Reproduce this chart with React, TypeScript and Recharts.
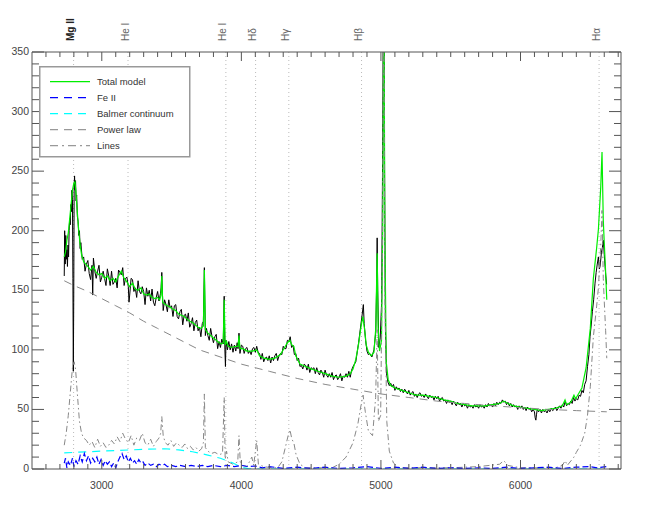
import React from 'react';
import { LineChart, Line, XAxis, YAxis, ReferenceLine, Legend } from 'recharts';

type P = [number, number];

const markerWaves = [2798, 3188, 3889, 4102, 4340, 4861, 6563];
const markerLabels = ['Mg II', 'He I', 'He I', 'H\u03b4', 'H\u03b3', 'H\u03b2', 'H\u03b1'];

const xTicks = [2600,2700,2800,2900,3000,3100,3200,3300,3400,3500,3600,3700,3800,3900,4000,4100,4200,4300,4400,4500,4600,4700,4800,4900,5000,5100,5200,5300,5400,5500,5600,5700,5800,5900,6000,6100,6200,6300,6400,6500,6600,6700];
const yTicks = [0,10,20,30,40,50,60,70,80,90,100,110,120,130,140,150,160,170,180,190,200,210,220,230,240,250,260,270,280,290,300,310,320,330,340,350];

const observed: P[] = [
[2731,162],[2734,200],[2738,172],[2742,196],[2746,176],[2750,184],[2754,170],[2758,188],[2762,178],[2766,200],[2770,210],[2774,205],[2778,222],[2782,216],[2786,234],[2790,226],[2793,160],[2796,82],[2799,140],[2802,238],[2805,246],[2808,234],[2812,242],[2816,225],[2820,230],[2825,212],[2830,208],[2835,196],[2840,200],[2845,185],
[2850,190],[2860,176],[2870,178],[2880,166],[2890,172],[2900,175],[2910,164],[2920,159],[2930,171],[2935,146],[2940,177],[2950,166],[2960,160],[2970,166],[2980,171],[2990,157],[3000,161],[3010,166],[3020,160],[3030,154],[3040,168],[3050,162],[3060,154],[3070,166],[3080,155],[3090,157],[3100,160],[3110,152],[3120,167],[3130,165],[3140,163],[3150,169],[3160,154],[3170,160],[3180,161],[3190,153],[3195,140],[3200,146],[3210,160],[3220,159],[3230,149],[3240,152],[3250,144],[3260,158],[3270,149],[3280,147],[3290,153],[3300,149],[3310,138],[3320,152],[3330,145],[3340,150],[3350,141],[3360,151],[3370,140],[3380,137],[3390,144],[3400,149],[3410,141],[3420,147],[3425,152],[3430,165],[3435,146],[3440,133],[3450,142],[3460,138],[3470,132],[3480,142],[3490,135],[3500,137],[3510,128],[3520,137],[3530,138],[3540,128],[3550,126],[3560,132],[3570,134],[3580,121],[3590,129],[3600,130],[3610,124],[3620,131],[3630,119],[3640,122],[3650,127],[3660,116],[3670,123],[3680,125],[3690,116],[3700,119],[3710,111],[3720,122],[3728,124],[3735,169],[3742,112],[3750,118],[3760,112],[3770,108],[3780,118],[3790,111],[3800,106],[3810,111],[3820,113],[3830,101],[3840,107],[3850,102],[3860,109],[3870,105],[3877,145],[3882,100],[3886,86],[3890,108],[3900,100],[3910,107],[3920,100],[3930,105],[3940,98],[3950,104],[3960,99],[3970,106],[3976,101],[3983,114],[3990,97],[4000,104],
[4010,103],[4020,97],[4030,101],[4040,102],[4050,97],[4060,99],[4070,96],[4080,101],[4090,102],[4100,98],[4110,103],[4120,98],[4130,97],[4140,92],[4150,97],[4160,90],[4170,93],[4180,94],[4190,91],[4200,95],[4210,89],[4220,94],[4230,91],[4240,95],[4250,97],[4260,91],[4270,95],[4280,97],[4290,96],[4300,103],[4310,101],[4320,101],[4330,108],[4340,107],[4350,111],[4360,102],[4370,104],[4380,96],[4390,97],[4400,91],[4410,93],[4420,86],[4430,87],[4440,84],[4450,88],[4460,87],[4470,83],[4480,88],[4490,81],[4500,85],[4510,84],[4520,85],[4530,80],[4540,85],[4550,81],[4560,79],[4570,83],[4580,81],[4590,77],[4600,83],[4610,79],[4620,77],[4630,80],[4640,77],[4650,81],[4660,75],[4670,78],[4680,79],[4690,75],[4700,77],[4710,80],[4720,74],[4730,78],[4740,77],[4750,80],[4760,77],[4770,82],[4780,77],[4790,83],[4800,86],
[4820,90],[4840,106],[4855,120],[4866,130],[4874,138],[4880,122],[4890,108],[4900,99],[4910,96],[4920,97],[4935,94],[4950,100],[4963,115],[4970,160],[4973,194],[4977,150],[4985,102],[4995,110],[5005,140],[5012,260],[5018,420],[5022,420],[5026,250],[5032,120],[5040,80],[5050,73],
[5060,70],[5070,72],[5080,69],[5090,71],[5100,66],[5110,69],[5120,67],[5130,68],[5140,65],[5150,67],[5160,64],[5170,67],[5180,65],[5190,63],[5200,66],[5210,62],[5220,64],[5230,65],[5240,61],[5250,63],[5260,60],[5270,63],[5280,64],[5290,61],[5300,62],[5310,60],[5320,63],[5330,61],[5340,59],[5350,62],[5360,60],[5370,61],[5380,58],[5390,61],[5400,59],[5410,61],[5420,57],[5430,59],[5440,60],[5450,57],[5460,58],[5470,55],[5480,58],[5490,56],[5500,57],[5510,54],[5520,57],[5530,55],[5540,53],[5550,56],[5560,54],[5570,55],[5580,52],[5590,55],[5600,53],[5610,54],[5620,51],[5630,54],[5640,52],[5650,53],[5660,51],[5670,54],[5680,52],[5690,53],[5700,51],[5710,54],[5720,52],[5730,53],[5740,51],[5750,54],[5760,52],[5770,55],[5780,53],[5790,54],[5800,52],[5810,55],[5820,53],[5830,56],[5840,54],[5850,56],[5860,55],[5870,58],[5880,56],[5890,57],[5900,54],[5910,56],[5920,53],[5930,55],[5940,52],[5950,54],[5960,52],[5970,53],[5980,50],[5990,53],[6000,51],[6010,53],[6020,50],[6030,52],[6040,49],[6050,52],[6060,50],[6070,51],[6080,48],[6090,50],[6100,48],[6105,43],[6110,41],[6115,46],[6120,50],[6130,48],[6140,50],[6150,47],[6160,50],[6170,48],[6180,49],[6190,47],[6200,50],[6210,48],[6220,51],[6230,49],[6240,50],[6250,52],[6260,49],[6270,51],[6280,53],[6290,51],[6300,54],[6310,52],[6320,57],[6330,53],[6340,55],[6350,54],[6360,57],[6370,55],[6380,60],[6390,57],[6400,59],[6410,58],[6420,62],[6430,61],[6440,66],[6450,64],[6460,71],[6470,74],[6480,86],[6490,96],
[6498,111],[6506,120],[6515,132],[6524,142],[6534,156],[6542,165],[6550,172],[6558,178],[6565,168],[6570,170],[6580,182],[6587,186],[6593,192],[6600,180],[6606,170],[6611,162],[6617,155]
];

const totalModel: P[] = [
[2731,178],[2740,182],[2750,192],[2760,198],[2770,210],[2780,222],[2790,234],[2800,240],[2808,241],[2815,232],[2825,215],[2835,200],[2845,188],[2855,180],[2870,174],[2885,172],[2900,170],[2920,167],[2940,170],[2960,165],[2980,163],[3000,164],[3020,160],[3040,162],[3060,158],[3080,160],[3100,157],[3120,162],[3140,166],[3160,160],[3180,157],[3200,153],[3220,156],[3240,151],[3260,150],[3280,152],[3300,147],[3320,146],[3340,147],[3360,144],[3380,143],[3400,144],[3415,142],[3424,146],[3430,162],[3436,140],[3455,138],[3470,137],[3490,136],[3510,134],[3530,133],[3550,130],[3570,129],[3590,128],[3610,126],[3630,124],[3650,123],[3670,121],[3690,119],[3710,118],[3728,120],[3735,167],[3742,117],[3760,114],[3780,112],[3800,110],[3820,108],[3840,106],[3860,105],[3870,106],[3877,142],[3884,104],[3894,107],[3905,103],[3930,102],[3960,103],[3976,103],[3983,112],[3990,101],[4010,101],[4040,99],[4080,99],[4110,100],[4130,95],[4160,93],[4200,92],[4240,93],[4280,96],[4310,102],[4330,106],[4348,108],[4362,104],[4376,103],[4390,95],[4420,88],[4460,86],[4500,84],[4550,82],[4600,80],[4650,78],[4700,77],[4750,78],[4780,80],[4800,84],[4820,92],[4840,105],[4858,120],[4870,128],[4882,118],[4895,104],[4910,98],[4930,95],[4950,98],[4963,118],[4973,181],[4980,118],[4990,99],[5004,108],[5014,220],[5021,420],[5028,200],[5038,90],[5052,75],[5070,70],[5100,68],[5150,66],[5200,64],[5250,62],[5300,62],[5350,61],[5400,60],[5450,58],[5500,57],[5550,55],[5600,54],[5650,53],[5700,53],[5750,53],[5800,54],[5850,55],[5880,57],[5910,55],[5950,53],[6000,52],[6050,51],[6100,50],[6150,49],[6200,50],[6250,51],[6300,53],[6319,58],[6330,54],[6360,56],[6383,62],[6395,59],[6420,64],[6440,68],[6470,85],[6500,118],[6522,160],[6545,185],[6558,201],[6575,237],[6584,266],[6593,209],[6600,190],[6610,165],[6618,142]
];

const powerLaw: P[] = [
[2731,158],[2800,154],[2900,149],[3000,143],[3100,137],[3200,131],[3300,124],[3400,118],[3500,112],[3600,106],[3700,100],[3800,96],[3900,92],[4000,88],[4200,82],[4400,76],[4600,71],[4800,67],[5000,63],[5200,60],[5400,57],[5600,55],[5800,53],[6000,51.5],[6200,50],[6400,49],[6618,48]
];

const linesModel: P[] = [
[2731,20],[2745,30],[2760,45],[2775,65],[2790,85],[2802,90],[2812,84],[2825,63],[2840,40],[2855,30],[2870,26],[2890,24],[2910,20],[2930,23],[2950,18],[2970,25],[2990,19],[3010,22],[3030,18],[3050,20],[3070,24],[3090,21],[3110,27],[3130,23],[3150,30],[3170,25],[3190,22],[3210,28],[3230,20],[3250,26],[3270,24],[3290,30],[3310,22],[3330,20],[3350,25],[3370,19],[3390,23],[3410,26],[3422,30],[3430,44],[3440,28],[3455,22],[3475,20],[3495,24],[3515,19],[3535,22],[3555,20],[3575,18],[3595,21],[3615,17],[3635,19],[3655,16],[3675,18],[3695,15],[3715,17],[3728,22],[3735,63],[3742,18],[3760,15],[3785,13],[3810,14],[3840,12],[3865,13],[3877,60],[3884,8],[3894,15],[3905,6],[3940,4],[3974,6],[3983,28],[3992,6],[4010,3],[4040,2],[4075,10],[4088,3],[4110,24],[4122,4],[4160,2],[4220,1],[4260,1],[4290,6],[4315,18],[4335,28],[4348,33],[4362,25],[4376,22],[4392,12],[4420,4],[4460,1],[4550,1],[4650,1],[4700,4],[4750,10],[4800,22],[4835,38],[4855,52],[4872,62],[4888,48],[4910,32],[4940,28],[4962,60],[4973,117],[4982,40],[4998,45],[5012,200],[5020,420],[5028,150],[5042,40],[5060,15],[5090,5],[5130,1],[5300,1],[5500,1],[5700,2],[5850,4],[5880,7],[5910,3],[6000,1],[6150,1],[6250,1],[6300,3],[6320,7],[6335,3],[6383,10],[6400,14],[6430,20],[6460,30],[6480,45],[6500,69],[6522,111],[6545,136],[6558,152],[6575,188],[6584,217],[6593,160],[6600,141],[6610,116],[6618,93]
];

const balmer: P[] = [
[2731,13.5],[2900,14.5],[3100,15.5],[3300,16.5],[3450,17],[3550,16],[3650,14.5],[3760,11.7],[3850,9],[3940,5],[4000,1.5],[4050,0.3],[4100,0],[5000,0],[6000,0],[6618,0]
];

const feII: P[] = [
[2731,5],[2740,9],[2750,1],[2760,6],[2775,3],[2790,9],[2800,2],[2815,7],[2830,4],[2845,11],[2860,6],[2875,13],[2890,7],[2905,11],[2920,5],[2935,9],[2950,6],[2965,10],[2980,4],[2995,8],[3010,3],[3025,7],[3040,4],[3055,6],[3070,2],[3085,5],[3100,1],[3115,6],[3130,10],[3145,13],[3160,8],[3175,11],[3190,6],[3205,9],[3220,5],[3235,7],[3250,4],[3265,8],[3280,5],[3295,6],[3310,3],[3330,5],[3350,3],[3370,4],[3390,2],[3410,4],[3430,3],[3450,4],[3470,2],[3500,3],[3530,2],[3560,3],[3600,2],[3640,3],[3680,2],[3720,3],[3760,2],[3800,3],[3850,2],[3900,3],[3950,2],[4000,3],[4050,2],[4100,2.5],[4150,1],[4200,2],[4300,0.5],[4400,1.5],[4500,0.5],[4600,1.5],[4700,0.5],[4800,1],[4900,2],[5000,0.5],[5100,1.5],[5200,0.5],[5300,1.5],[5400,0.5],[5500,1],[5600,0.5],[5700,1],[5800,0.5],[5900,1.5],[6000,0.5],[6100,1],[6200,1.5],[6300,0.5],[6400,1.5],[6500,2],[6550,1],[6618,2]
];

const legendItems = [
  { name: 'Total model', color: '#00ee00', dash: '' },
  { name: 'Fe II', color: '#0000ff', dash: '8 6' },
  { name: 'Balmer continuum', color: '#00ffff', dash: '8 6' },
  { name: 'Power law', color: '#999999', dash: '8 6' },
  { name: 'Lines', color: '#999999', dash: '8 4 2 4' },
];

const toPts = (arr: P[]) => arr.map(([x, y]) => ({ x, y }));

const AXIS = '#555';
const FONT = "'Liberation Sans', Arial, sans-serif";

const BottomTick = (props: any) => {
  const { x, y, payload } = props;
  const v = payload.value;
  const major = v % 1000 === 0;
  return (
    <g>
      <line x1={x} x2={x} y1={y} y2={y - (major ? 9 : 5)} stroke={AXIS} />
      {major && (
        <text x={x} y={y + 20} textAnchor="middle" fontSize={10.5} fontFamily={FONT} fill="#444">{v}</text>
      )}
    </g>
  );
};

const TopTick = (props: any) => {
  const { x, y, payload } = props;
  const major = payload.value % 1000 === 0;
  return <line x1={x} x2={x} y1={y} y2={y + (major ? 9 : 5)} stroke={AXIS} />;
};

const LeftTick = (props: any) => {
  const { x, y, payload } = props;
  const v = payload.value;
  const major = v % 50 === 0;
  return (
    <g>
      <line x1={x} x2={x + (major ? 12 : 7)} y1={y} y2={y} stroke={AXIS} />
      {major && (
        <text x={x - 3} y={y + 3} textAnchor="end" fontSize={10.5} fontFamily={FONT} fill="#444">{v}</text>
      )}
    </g>
  );
};

const RightTick = (props: any) => {
  const { x, y, payload } = props;
  const major = payload.value % 50 === 0;
  return <line x1={x} x2={x - (major ? 12 : 7)} y1={y} y2={y} stroke={AXIS} />;
};

const MarkerLabel = (props: any) => {
  const { viewBox, text, strong } = props;
  if (!viewBox) return null;
  const lx = viewBox.x + 0.5;
  const ly = viewBox.y - 11;
  return (
    <text x={lx} y={ly} transform={`rotate(-90 ${lx} ${ly})`} fontSize={10} fontFamily={FONT}
      fill={strong ? '#222' : '#666'} fontWeight={strong ? 'bold' : 'normal'}>{text}</text>
  );
};

const LegendBox = () => (
  <svg width={152} height={92} style={{ display: 'block' }}>
    <rect x={0.75} y={0.75} width={150} height={90} fill="white" stroke="#999" strokeWidth={1.5} />
    {legendItems.map((it, i) => {
      const cy = 15.6 + 16 * i;
      return (
        <g key={it.name}>
          <line x1={11} x2={51} y1={cy} y2={cy} stroke={it.color} strokeWidth={1.2} strokeDasharray={it.dash || undefined} />
          <text x={58} y={cy + 3.5} fontSize={9.5} fontFamily={FONT} fill="#333">{it.name}</text>
        </g>
      );
    })}
  </svg>
);

export default function App() {
  return (
    <div style={{ width: 630, height: 500 }}>
      <LineChart width={630} height={500} margin={{ top: 0, right: 0, bottom: 0, left: 0 }}>
        <XAxis xAxisId="b" type="number" dataKey="x" domain={[2500, 6720]} ticks={xTicks} interval={0}
          orientation="bottom" height={39} tickSize={0} tickMargin={0} tickLine={false}
          axisLine={{ stroke: AXIS }} tick={BottomTick} allowDataOverflow />
        <XAxis xAxisId="t" type="number" dataKey="x" domain={[2500, 6720]} ticks={xTicks} interval={0}
          orientation="top" height={44} tickSize={0} tickMargin={0} tickLine={false}
          axisLine={{ stroke: AXIS }} tick={TopTick} allowDataOverflow />
        <YAxis yAxisId="l" type="number" dataKey="y" domain={[0, 350]} ticks={yTicks} interval={0}
          orientation="left" width={24} tickSize={0} tickMargin={0} tickLine={false}
          axisLine={{ stroke: AXIS }} tick={LeftTick} allowDataOverflow />
        <YAxis yAxisId="r" type="number" dataKey="y" domain={[0, 350]} ticks={yTicks} interval={0}
          orientation="right" width={17} tickSize={0} tickMargin={0} tickLine={false}
          axisLine={{ stroke: AXIS }} tick={RightTick} allowDataOverflow />
        {markerWaves.map((w, i) => (
          <ReferenceLine key={w + '-' + i} x={w} xAxisId="b" yAxisId="l" stroke="#bbb" strokeDasharray="1 3"
            label={<MarkerLabel text={markerLabels[i]} strong={i === 0} />} />
        ))}
        <Line data={toPts(observed)} dataKey="y" xAxisId="b" yAxisId="l" type="linear" stroke="#000" strokeWidth={1}
          dot={false} isAnimationActive={false} />
        <Line data={toPts(totalModel)} dataKey="y" xAxisId="b" yAxisId="l" type="linear" stroke="#00ee00" strokeWidth={1.2}
          dot={false} isAnimationActive={false} />
        <Line data={toPts(powerLaw)} dataKey="y" xAxisId="b" yAxisId="l" type="linear" stroke="#888" strokeWidth={1}
          strokeDasharray="8 6" dot={false} isAnimationActive={false} />
        <Line data={toPts(linesModel)} dataKey="y" xAxisId="b" yAxisId="l" type="linear" stroke="#888" strokeWidth={1}
          strokeDasharray="6 3 1.5 3" dot={false} isAnimationActive={false} />
        <Line data={toPts(balmer)} dataKey="y" xAxisId="b" yAxisId="l" type="linear" stroke="#00ffff" strokeWidth={1.2}
          strokeDasharray="8 6" dot={false} isAnimationActive={false} />
        <Line data={toPts(feII)} dataKey="y" xAxisId="b" yAxisId="l" type="linear" stroke="#0000ff" strokeWidth={1.2}
          strokeDasharray="6 3" dot={false} isAnimationActive={false} />
        <Legend layout="vertical" align="center" verticalAlign="middle"
          wrapperStyle={{ left: 31, top: 58, width: 152, height: 92 }} content={() => <LegendBox />} />
      </LineChart>
    </div>
  );
}
